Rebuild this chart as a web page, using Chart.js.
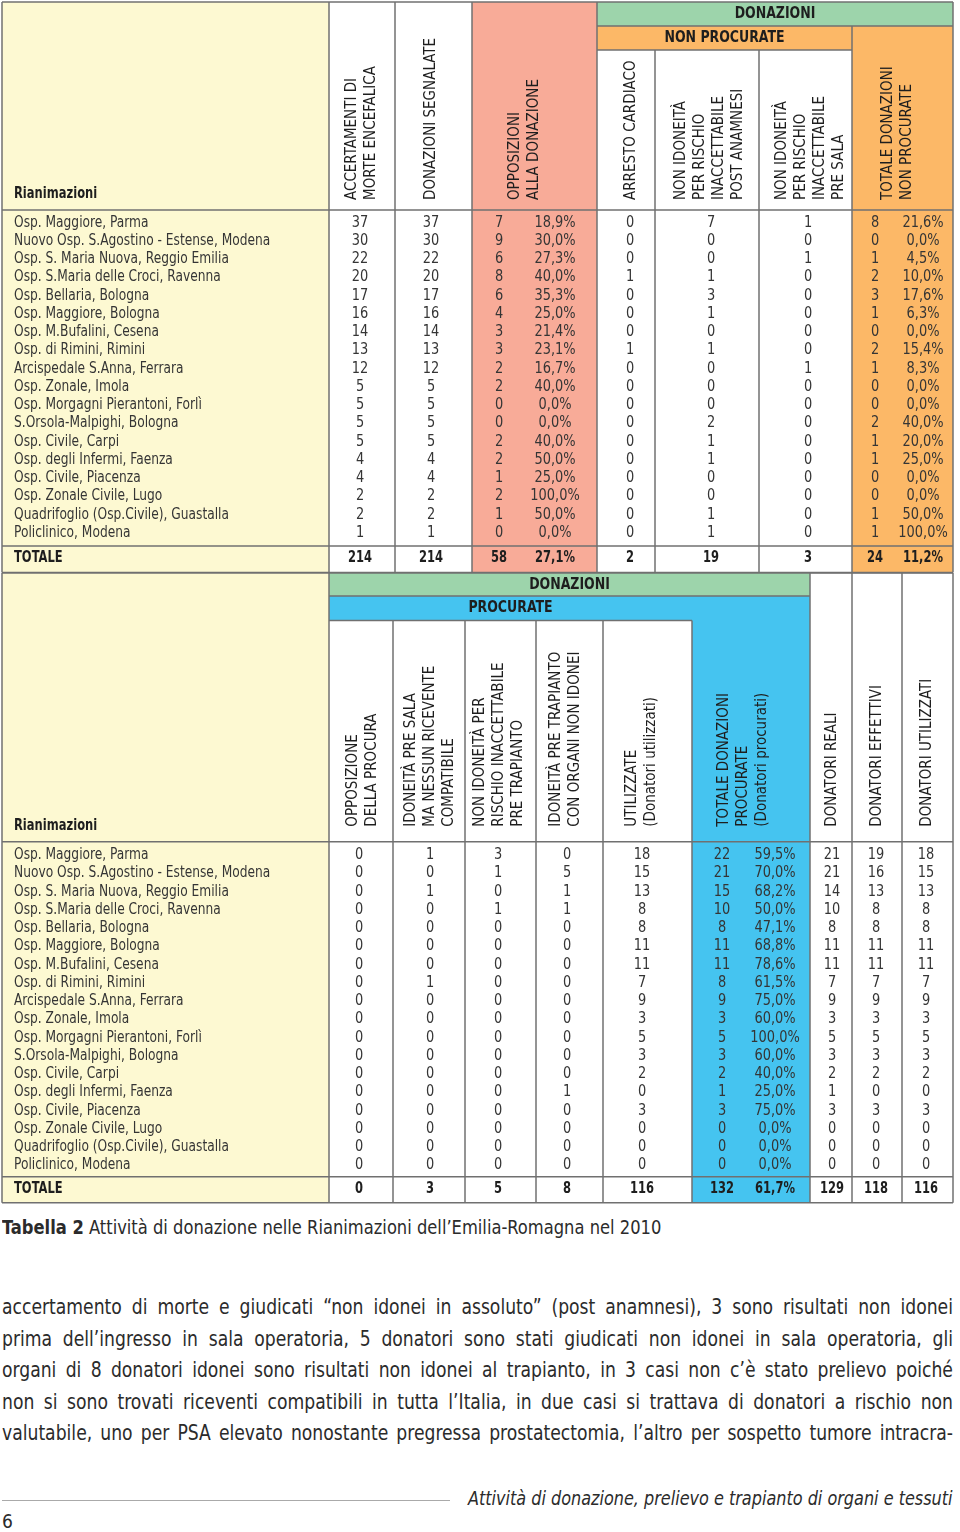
<!DOCTYPE html>
<html lang="it">
<head>
<meta charset="UTF-8">
<meta name="viewport" content="width=device-width, initial-scale=1.0">
<title>Tabella 2 - Attività di donazione nelle Rianimazioni dell'Emilia-Romagna nel 2010</title>
<script src="https://cdn.jsdelivr.net/npm/chart.js"></script>
<style>
    body { margin: 0; background: #fff; }
    .page {
        position: relative; width: 960px; height: 1532px; overflow: hidden;
        font-family: "DejaVu Sans Condensed", "DejaVu Sans", sans-serif; color: #2b2b2b;
    }
    #table1 { position: absolute; left: 0; top: 0; }
    #table2 { position: absolute; left: 0; top: 572px; }
    .caption { position: absolute; left: 2px; top: 1216px; font-size: 19px; white-space: nowrap;
               transform: scaleX(0.955); transform-origin: left top; }
    .testo { position: absolute; left: 2px; top: 1292px; font-size: 21px; line-height: 31.5px; }
    /* condensed look: justify each line in a wider box, then squeeze it back */
    .testo div { width: 1045px; text-align: justify; text-align-last: justify;
                 transform: scaleX(0.91); transform-origin: left top; }
    .rule { position: absolute; left: 2px; top: 1500px; width: 448px; border-top: 1.5px solid #aaa; }
    .running { position: absolute; right: 7px; top: 1487px; font-size: 19px; font-style: italic; white-space: nowrap;
               transform: scaleX(0.94); transform-origin: right top; }
    .folio { position: absolute; left: 2px; top: 1510px; font-size: 19px; }
</style>
</head>
<body>
<div class="page">
    <canvas id="table1" width="960" height="574"></canvas>
    <canvas id="table2" width="960" height="634"></canvas>
    <div class="caption"><b>Tabella 2</b> Attività di donazione nelle Rianimazioni dell’Emilia-Romagna nel 2010</div>
    <div class="testo">
        <div>accertamento di morte e giudicati “non idonei in assoluto” (post anamnesi), 3 sono risultati non idonei</div>
        <div>prima dell’ingresso in sala operatoria, 5 donatori sono stati giudicati non idonei in sala operatoria, gli</div>
        <div>organi di 8 donatori idonei sono risultati non idonei al trapianto, in 3 casi non c’è stato prelievo poiché</div>
        <div>non si sono trovati riceventi compatibili in tutta l’Italia, in due casi si trattava di donatori a rischio non</div>
        <div>valutabile, uno per PSA elevato nonostante pregressa prostatectomia, l’altro per sospetto tumore intracra-</div>
    </div>
    <div class="rule"></div>
    <div class="running">Attività di donazione, prelievo e trapianto di organi e tessuti</div>
    <div class="folio">6</div>
</div>

<script>
    const FONT = '"DejaVu Sans Condensed", "DejaVu Sans", sans-serif';

    // ---------- data ----------
    const rianimazioni = [
        'Osp. Maggiore, Parma', 'Nuovo Osp. S.Agostino - Estense, Modena', 'Osp. S. Maria Nuova, Reggio Emilia',
        'Osp. S.Maria delle Croci, Ravenna', 'Osp. Bellaria, Bologna', 'Osp. Maggiore, Bologna',
        'Osp. M.Bufalini, Cesena', 'Osp. di Rimini, Rimini', 'Arcispedale S.Anna, Ferrara',
        'Osp. Zonale, Imola', 'Osp. Morgagni Pierantoni, Forlì', 'S.Orsola-Malpighi, Bologna',
        'Osp. Civile, Carpi', 'Osp. degli Infermi, Faenza', 'Osp. Civile, Piacenza',
        'Osp. Zonale Civile, Lugo', 'Quadrifoglio (Osp.Civile), Guastalla', 'Policlinico, Modena'
    ];

    // tabella superiore
    const accertamenti = [37, 30, 22, 20, 17, 16, 14, 13, 12, 5, 5, 5, 5, 4, 4, 2, 2, 1];
    const segnalate = [37, 30, 22, 20, 17, 16, 14, 13, 12, 5, 5, 5, 5, 4, 4, 2, 2, 1];
    const opposizioni = [7, 9, 6, 8, 6, 4, 3, 3, 2, 2, 0, 0, 2, 2, 1, 2, 1, 0];
    const opposizioniPct = ['18,9%', '30,0%', '27,3%', '40,0%', '35,3%', '25,0%', '21,4%', '23,1%', '16,7%',
        '40,0%', '0,0%', '0,0%', '40,0%', '50,0%', '25,0%', '100,0%', '50,0%', '0,0%'];
    const arrestoCardiaco = [0, 0, 0, 1, 0, 0, 0, 1, 0, 0, 0, 0, 0, 0, 0, 0, 0, 0];
    const nonIdoneiPostAnamnesi = [7, 0, 0, 1, 3, 1, 0, 1, 0, 0, 0, 2, 1, 1, 0, 0, 1, 1];
    const nonIdoneiPreSala = [1, 0, 1, 0, 0, 0, 0, 0, 1, 0, 0, 0, 0, 0, 0, 0, 0, 0];
    const nonProcurate = [8, 0, 1, 2, 3, 1, 0, 2, 1, 0, 0, 2, 1, 1, 0, 0, 1, 1];
    const nonProcuratePct = ['21,6%', '0,0%', '4,5%', '10,0%', '17,6%', '6,3%', '0,0%', '15,4%', '8,3%',
        '0,0%', '0,0%', '40,0%', '20,0%', '25,0%', '0,0%', '0,0%', '50,0%', '100,0%'];
    const totale1 = [214, 214, 58, '27,1%', 2, 19, 3, 24, '11,2%'];

    // tabella inferiore
    const opposizioneProcura = [0, 0, 0, 0, 0, 0, 0, 0, 0, 0, 0, 0, 0, 0, 0, 0, 0, 0];
    const idoneiNessunRicevente = [1, 0, 1, 0, 0, 0, 0, 1, 0, 0, 0, 0, 0, 0, 0, 0, 0, 0];
    const nonIdoneiPreTrapianto = [3, 1, 0, 1, 0, 0, 0, 0, 0, 0, 0, 0, 0, 0, 0, 0, 0, 0];
    const organiNonIdonei = [0, 5, 1, 1, 0, 0, 0, 0, 0, 0, 0, 0, 0, 1, 0, 0, 0, 0];
    const utilizzate = [18, 15, 13, 8, 8, 11, 11, 7, 9, 3, 5, 3, 2, 0, 3, 0, 0, 0];
    const procurate = [22, 21, 15, 10, 8, 11, 11, 8, 9, 3, 5, 3, 2, 1, 3, 0, 0, 0];
    const procuratePct = ['59,5%', '70,0%', '68,2%', '50,0%', '47,1%', '68,8%', '78,6%', '61,5%', '75,0%',
        '60,0%', '100,0%', '60,0%', '40,0%', '25,0%', '75,0%', '0,0%', '0,0%', '0,0%'];
    const donatoriReali = [21, 21, 14, 10, 8, 11, 11, 7, 9, 3, 5, 3, 2, 1, 3, 0, 0, 0];
    const donatoriEffettivi = [19, 16, 13, 8, 8, 11, 11, 7, 9, 3, 5, 3, 2, 0, 3, 0, 0, 0];
    const donatoriUtilizzati = [18, 15, 13, 8, 8, 11, 11, 7, 9, 3, 5, 3, 2, 0, 3, 0, 0, 0];
    const totale2 = [0, 3, 5, 8, 116, 132, '61,7%', 129, 118, 116];

    // column titles
    const titoli1 = [
        ['ACCERTAMENTI DI', 'MORTE ENCEFALICA'],
        ['DONAZIONI SEGNALATE'],
        ['OPPOSIZIONI', 'ALLA DONAZIONE'],
        ['ARRESTO CARDIACO'],
        ['NON IDONEITÀ', 'PER RISCHIO', 'INACCETTABILE', 'POST ANAMNESI'],
        ['NON IDONEITÀ', 'PER RISCHIO', 'INACCETTABILE', 'PRE SALA'],
        ['TOTALE DONAZIONI', 'NON PROCURATE']
    ];
    const titoli2 = [
        ['OPPOSIZIONE', 'DELLA PROCURA'],
        ['IDONEITÀ PRE SALA', 'MA NESSUN RICEVENTE', 'COMPATIBILE'],
        ['NON IDONEITÀ PER', 'RISCHIO INACCETTABILE', 'PRE TRAPIANTO'],
        ['IDONEITÀ PRE TRAPIANTO', 'CON ORGANI NON IDONEI'],
        ['UTILIZZATE', '(Donatori utilizzati)'],
        ['TOTALE DONAZIONI', 'PROCURATE', '(Donatori procurati)'],
        ['DONATORI REALI'],
        ['DONATORI EFFETTIVI'],
        ['DONATORI UTILIZZATI']
    ];

    // ---------- layout ----------
    const YELLOW = '#fdf9d2', SALMON = '#f8ab98', ORANGE = '#fcb867', GREEN = '#9dd4ab', BLUE = '#45c4f0';

    const grid1 = { height: 574, headBottom: 210, firstRow: 222.5, rowStep: 18.25, totalRow: 557.5, titleGap: 10, titleLead: 19 };
    const cellX1 = [14, 360, 431, 499, 555, 630, 711, 808, 875, 923];
    const titleX1 = [361.3, 431, 525, 631, 710, 810.5, 897.5];
    const fills1 = [
        [2, 2, 329, 572.5, YELLOW], [472, 2, 597, 572.5, SALMON], [597, 2, 953, 26, GREEN],
        [597, 26, 852, 50, ORANGE], [852, 26, 953, 572.5, ORANGE]
    ];
    const lines1 = [
        [2, 2, 953, 2], [597, 26, 953, 26], [597, 50, 852, 50], [2, 210, 953, 210], [2, 546, 953, 546], [2, 572.5, 953, 572.5],
        [2, 2, 2, 572.5], [329, 2, 329, 572.5], [395, 2, 395, 572.5], [472, 2, 472, 572.5], [597, 2, 597, 572.5],
        [655, 50, 655, 572.5], [759, 50, 759, 572.5], [852, 26, 852, 572.5], [953, 2, 953, 572.5]
    ];
    const bands1 = [['DONAZIONI', 597, 953, 2, 26], ['NON PROCURATE', 597, 852, 26, 50]];

    const grid2 = { height: 634, headBottom: 269.7, firstRow: 283, rowStep: 18.24, totalRow: 617, titleGap: 15, titleLead: 19 };
    const cellX2 = [14, 359, 430, 498, 567, 642, 722, 775, 832, 876, 926];
    const titleX2 = [362.5, 430, 499, 565.5, 641.7, 743, 831.7, 877, 926.7];
    const fills2 = [
        [2, 1, 329, 630.7, YELLOW], [329, 1, 810, 24, GREEN], [329, 24, 692, 48.5, BLUE], [692, 24, 810, 630.7, BLUE]
    ];
    const lines2 = [
        [2, 1, 953, 1], [329, 24, 810, 24], [329, 48.5, 692, 48.5], [2, 269.7, 953, 269.7], [2, 604.7, 953, 604.7], [2, 630.7, 953, 630.7],
        [2, 1, 2, 630.7], [329, 1, 329, 630.7], [393, 48.5, 393, 630.7], [465, 48.5, 465, 630.7], [536, 48.5, 536, 630.7],
        [603, 48.5, 603, 630.7], [692, 48.5, 692, 630.7], [810, 1, 810, 630.7], [852, 1, 852, 630.7], [902, 1, 902, 630.7],
        [953, 1, 953, 630.7]
    ];
    const bands2 = [['DONAZIONI', 329, 810, 1, 24], ['PROCURATE', 329, 692, 24, 48.5]];

    // horizontal squeeze so the wide fallback font matches the condensed original
    const SQUEEZE = { label: 0.85, number: 0.9, bold: 0.8, band: 0.87 };

    // one scatter dataset per column: invisible points, the text is drawn at each point
    function cells(values, total, x, g, kind) {
        const pts = values.map((v, i) => ({ x: x, y: g.firstRow + i * g.rowStep }));
        pts.push({ x: x, y: g.totalRow });
        return {
            data: pts,
            texts: values.map(String).concat([String(total)]),
            kind: kind || 'number',
            pointRadius: 0,
            pointHoverRadius: 0
        };
    }

    function squeezedText(ctx, s, x, y, align, sx) {
        ctx.save();
        ctx.translate(x, y);
        ctx.scale(sx, 1);
        ctx.textAlign = align;
        ctx.fillText(s, 0, 0);
        ctx.restore();
    }

    function tablePlugin(g, fills, lines, bands, titles, titleX) {
        return {
            id: 'tableFrame',
            beforeDatasetsDraw(chart) {
                const ctx = chart.ctx;
                const X = v => chart.scales.x.getPixelForValue(v);
                const Y = v => chart.scales.y.getPixelForValue(v);
                ctx.save();
                fills.forEach(f => {
                    ctx.fillStyle = f[4];
                    ctx.fillRect(X(f[0]), Y(f[1]), X(f[2]) - X(f[0]), Y(f[3]) - Y(f[1]));
                });
                ctx.strokeStyle = '#707070';
                ctx.lineWidth = 1.5;
                lines.forEach(l => {
                    ctx.beginPath();
                    ctx.moveTo(X(l[0]), Y(l[1]));
                    ctx.lineTo(X(l[2]), Y(l[3]));
                    ctx.stroke();
                });
                ctx.fillStyle = '#1e1e1e';
                ctx.textBaseline = 'middle';
                ctx.font = 'bold 16px ' + FONT;
                bands.forEach(b => squeezedText(ctx, b[0], X((b[1] + b[2]) / 2), Y((b[3] + b[4]) / 2), 'center', SQUEEZE.band));

                // rotated column titles, reading bottom to top
                ctx.textAlign = 'left';
                ctx.font = '15px ' + FONT;
                titles.forEach((t, c) => {
                    const n = t.length;
                    t.forEach((s, k) => {
                        ctx.save();
                        ctx.translate(X(titleX[c] + (k - (n - 1) / 2) * g.titleLead), Y(g.headBottom - g.titleGap));
                        ctx.rotate(-Math.PI / 2);
                        ctx.fillText(s, 0, 0);
                        ctx.restore();
                    });
                });
                ctx.font = 'bold 16px ' + FONT;
                squeezedText(ctx, 'Rianimazioni', X(14), Y(g.headBottom - 16), 'left', SQUEEZE.bold);
                ctx.restore();
            },
            afterDatasetsDraw(chart) {
                const ctx = chart.ctx;
                ctx.save();
                ctx.textBaseline = 'middle';
                chart.data.datasets.forEach((ds, di) => {
                    const meta = chart.getDatasetMeta(di);
                    const align = ds.kind === 'label' ? 'left' : 'center';
                    meta.data.forEach((el, i) => {
                        const last = i === meta.data.length - 1;
                        ctx.font = (last ? 'bold ' : '') + '16px ' + FONT;
                        ctx.fillStyle = last ? '#1e1e1e' : '#353535';
                        squeezedText(ctx, ds.texts[i], el.x, el.y, align, last ? SQUEEZE.bold : SQUEEZE[ds.kind]);
                    });
                });
                ctx.restore();
            }
        };
    }

    function makeTable(id, g, datasets, plugin) {
        return new Chart(document.getElementById(id), {
            type: 'scatter',
            data: { datasets: datasets },
            options: {
                responsive: false,
                animation: false,
                devicePixelRatio: 1,
                events: [],
                layout: { padding: 0 },
                plugins: { legend: { display: false }, tooltip: { enabled: false } },
                scales: {
                    x: { type: 'linear', display: false, min: 0, max: 960 },
                    y: { type: 'linear', display: false, min: 0, max: g.height, reverse: true }
                }
            },
            plugins: [plugin]
        });
    }

    const cols1 = [accertamenti, segnalate, opposizioni, opposizioniPct, arrestoCardiaco,
        nonIdoneiPostAnamnesi, nonIdoneiPreSala, nonProcurate, nonProcuratePct];
    const ds1 = [cells(rianimazioni, 'TOTALE', cellX1[0], grid1, 'label')]
        .concat(cols1.map((v, c) => cells(v, totale1[c], cellX1[c + 1], grid1)));
    makeTable('table1', grid1, ds1, tablePlugin(grid1, fills1, lines1, bands1, titoli1, titleX1));

    const cols2 = [opposizioneProcura, idoneiNessunRicevente, nonIdoneiPreTrapianto, organiNonIdonei, utilizzate,
        procurate, procuratePct, donatoriReali, donatoriEffettivi, donatoriUtilizzati];
    const ds2 = [cells(rianimazioni, 'TOTALE', cellX2[0], grid2, 'label')]
        .concat(cols2.map((v, c) => cells(v, totale2[c], cellX2[c + 1], grid2)));
    makeTable('table2', grid2, ds2, tablePlugin(grid2, fills2, lines2, bands2, titoli2, titleX2));
</script>
</body>
</html>
